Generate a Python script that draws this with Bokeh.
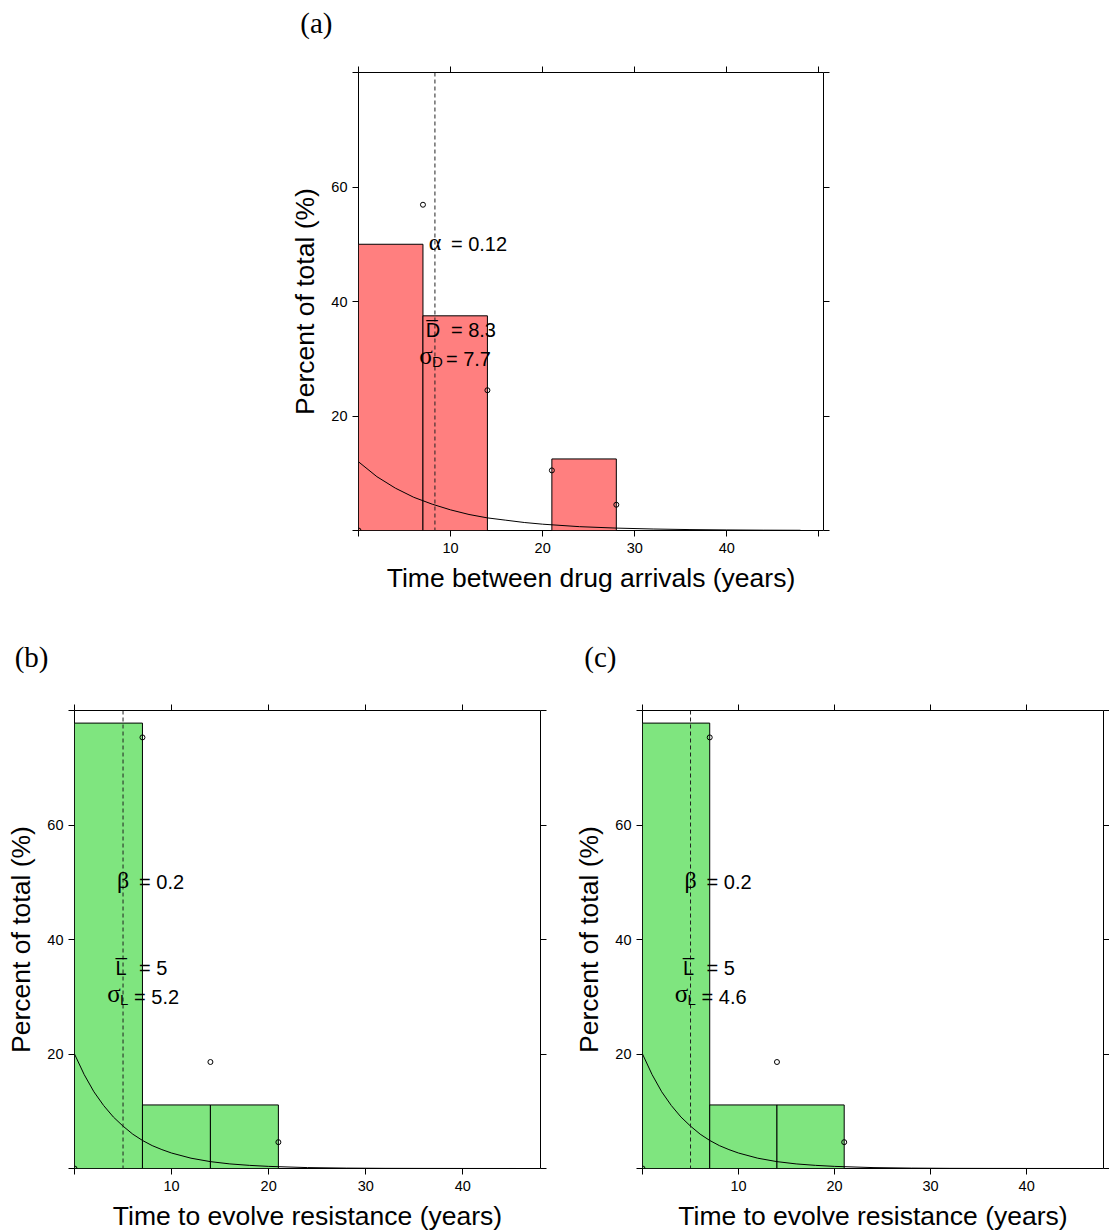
from bokeh.plotting import figure
from bokeh.models import Range1d, LinearAxis, FixedTicker, Label, Span
from bokeh.layouts import column, row
from bokeh.embed import file_html
from bokeh.resources import INLINE

# ---------------- data ----------------
# (a) time between drug arrivals
bins_a = [0, 7, 14, 21, 28]
pct_a = [50.0, 37.5, 0.0, 12.5]
pts_x_a = [0, 7, 14, 21, 28]
pts_y_a = [0.0, 56.9, 24.5, 10.5, 4.5]
curve_x_a = [0, 2, 4, 6, 8, 10, 12, 14, 16, 18, 20, 24, 28, 32, 36, 40, 44, 48]
curve_y_a = [12.0, 9.4, 7.4, 5.8, 4.6, 3.6, 2.8, 2.2, 1.8, 1.4, 1.1, 0.67, 0.42,
             0.26, 0.16, 0.1, 0.06, 0.04]
mean_a = 8.3
rate_a = "0.12"
sd_a = "7.7"

# (b), (c) time to evolve resistance
bins_b = [0, 7, 14, 21]
pct_b = [77.8, 11.1, 11.1]
pts_x_b = [0, 7, 14, 21]
pts_y_b = [0.0, 75.3, 18.6, 4.6]
curve_x_b = [0, 1, 2, 3, 4, 5, 6, 7, 8, 9, 10, 12, 14, 16, 18, 20, 24, 28, 32,
             36, 40, 45.5]
curve_y_b = [20.0, 16.4, 13.4, 11.0, 9.0, 7.4, 6.0, 4.9, 4.0, 3.3, 2.7, 1.8, 1.2,
             0.8, 0.55, 0.37, 0.16, 0.07, 0.03, 0.015, 0.007, 0.002]
mean_b = 5
rate_b = "0.2"
sd_b = "5.2"
sd_c = "4.6"

x_ticks = [0, 10, 20, 30, 40, 50]
y_ticks = [0, 20, 40, 60, 80]
x_tick_labels = {0: "", 10: "10", 20: "20", 30: "30", 40: "40", 50: ""}
y_tick_labels = {0: "", 20: "20", 40: "40", 60: "60", 80: ""}

SANS = "Liberation Sans"
SERIF = "Liberation Serif"
RED = "#FF7F7F"
GREEN = "#7FE57F"


def style_axis(ax, ticks, labels, show):
    ax.ticker = FixedTicker(ticks=ticks)
    ax.major_tick_out = 6
    ax.major_tick_in = 0
    ax.minor_tick_out = 0
    ax.minor_tick_in = 0
    ax.axis_line_color = None
    ax.major_tick_line_color = "black"
    ax.major_tick_line_width = 1
    if show:
        ax.major_label_overrides = labels
        ax.major_label_text_font = SANS
        ax.major_label_text_font_size = "14.5px"
        ax.major_label_text_color = "black"
    else:
        ax.major_label_overrides = {k: "" for k in ticks}
        ax.major_label_text_font_size = "0px"
        ax.major_label_standoff = 0


def tag_fig(text, w, h):
    """Text-only strip: the panel tag is drawn as a horizontal axis label
    just left of the (aligned) frame of the panel below."""
    t = figure(width=w, height=h, x_range=Range1d(0, 1), y_range=Range1d(0, 1),
               title=None, x_axis_type=None,
               output_backend="svg", toolbar_location=None, min_border=0,
               outline_line_color=None, background_fill_color="white",
               border_fill_color="white")
    t.grid.visible = False
    ax = t.yaxis[0]
    ax.ticker = FixedTicker(ticks=[])
    ax.major_tick_out = 0
    ax.major_tick_in = 0
    ax.minor_tick_out = 0
    ax.minor_tick_in = 0
    ax.axis_line_color = None
    ax.major_label_text_font_size = "0px"
    ax.major_label_standoff = 0
    ax.axis_label = text
    ax.axis_label_orientation = "horizontal"
    ax.axis_label_standoff = 26
    ax.axis_label_text_font = SERIF
    ax.axis_label_text_font_size = "29px"
    ax.axis_label_text_font_style = "normal"
    ax.axis_label_text_color = "black"
    return t


def panel(bins, pct, px, py, cx, cy, mean, color, xmax, xlabel,
          sym, rate, barsym, sd_sub, sd,
          bl, br, bt, bb, fw, fh):
    p = figure(frame_width=fw, frame_height=fh,
               x_range=Range1d(0, xmax), y_range=Range1d(0, 80),
               output_backend="svg", toolbar_location=None,
               min_border_left=bl, min_border_right=br,
               min_border_top=bt, min_border_bottom=bb,
               background_fill_color="white", border_fill_color="white")
    p.grid.visible = False
    p.outline_line_color = "black"
    p.outline_line_width = 1

    xa = p.xaxis[0]
    ya = p.yaxis[0]
    style_axis(xa, x_ticks, x_tick_labels, True)
    style_axis(ya, y_ticks, y_tick_labels, True)
    xa.major_label_standoff = 6
    ya.major_label_standoff = 5
    xa.axis_label = xlabel
    ya.axis_label = "Percent of total (%)"
    for ax in (xa, ya):
        ax.axis_label_text_font = SANS
        ax.axis_label_text_font_size = "26.5px"
        ax.axis_label_text_font_style = "normal"
        ax.axis_label_text_color = "black"
    xa.axis_label_standoff = 7
    ya.axis_label_standoff = 8

    top = LinearAxis()
    style_axis(top, x_ticks, None, False)
    p.add_layout(top, "above")
    right = LinearAxis()
    style_axis(right, y_ticks, None, False)
    p.add_layout(right, "right")

    p.quad(left=bins[:-1], right=bins[1:], bottom=0, top=pct,
           fill_color=color, line_color="black", line_width=1)
    p.line(cx, cy, line_color="black", line_width=1)
    p.scatter(px, py, marker="circle", size=5, fill_color=None,
              line_color="black", line_width=1)
    p.add_layout(Span(location=mean, dimension="height", line_color="#222222",
                      line_width=1, line_dash="4 3"))

    def lab(text, y, xoff, yoff=0, align="left", font=SANS, size="20px"):
        p.add_layout(Label(x=mean, y=y, x_offset=xoff, y_offset=yoff, text=text,
                           text_align=align, text_baseline="middle",
                           text_font=font, text_font_size=size,
                           text_color="black"))

    lab(sym, 50, 0, yoff=2, align="center", font=SERIF, size="24px")
    lab("= " + rate, 50, 16)
    lab(barsym + "\u0305", 35, -2, align="center")
    lab("= " + str(mean), 35, 16)
    lab("\u03c3", 30, -9, yoff=3, align="center", font=SERIF, size="25px")
    lab(sd_sub, 30, -3, yoff=-3, size="15px")
    lab("= " + sd, 30, 11)
    return p


pa = panel(bins_a, pct_a, pts_x_a, pts_y_a, curve_x_a, curve_y_a, mean_a, RED,
           50.5, "Time between drug arrivals (years)",
           "\u03b1", rate_a, "D", "D", sd_a,
           358, 286, 28, 80, 465, 458)
pb = panel(bins_b, pct_b, pts_x_b, pts_y_b, curve_x_b, curve_y_b, mean_b, GREEN,
           48, "Time to evolve resistance (years)",
           "\u03b2", rate_b, "L", "L", sd_b,
           74, 30, 8, 64, 466, 458)
pc = panel(bins_b, pct_b, pts_x_b, pts_y_b, curve_x_b, curve_y_b, mean_b, GREEN,
           48, "Time to evolve resistance (years)",
           "\u03b2", rate_b, "L", "L", sd_c,
           72, 6, 8, 64, 461, 458)

tag_a = tag_fig("(a)", 1109, 44)
tag_b = tag_fig("(b)", 570, 92)
tag_c = tag_fig("(c)", 539, 92)

layout = column(tag_a, pa, row(column(tag_b, pb), column(tag_c, pc)))
open("out.html", "w").write(file_html(layout, INLINE))
